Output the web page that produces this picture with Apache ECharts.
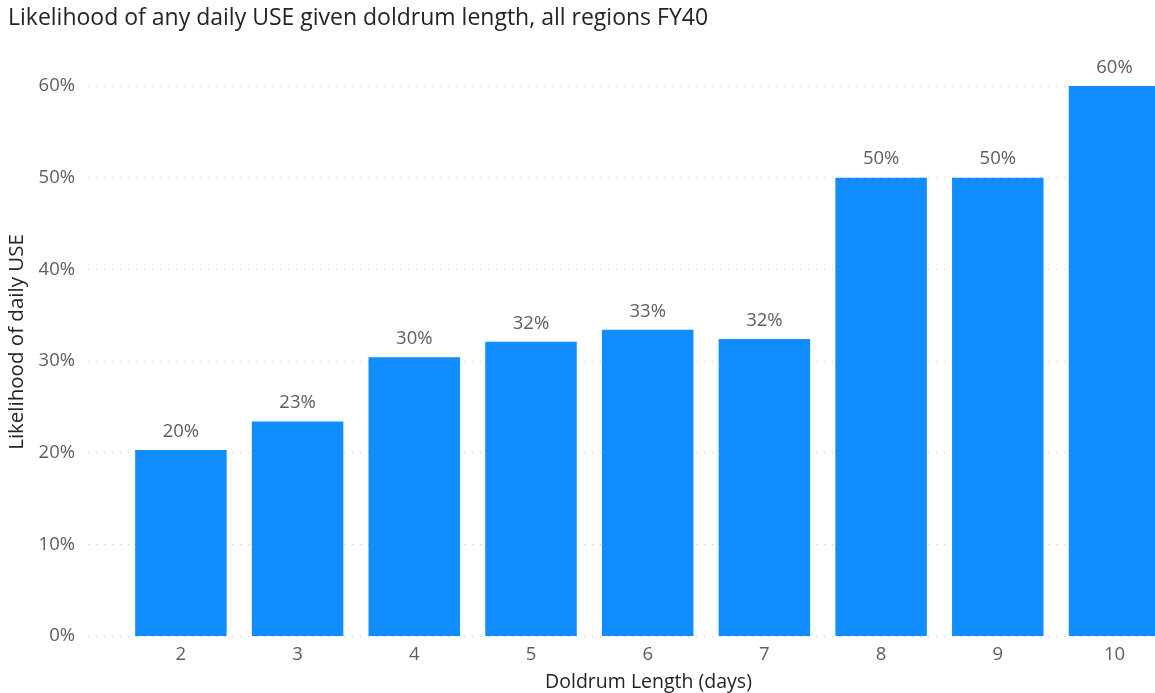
<!DOCTYPE html>
<html>
<head>
<meta charset="utf-8">
<script src="https://cdn.jsdelivr.net/npm/echarts@6/dist/echarts.min.js"></script>
<style>
  html, body { margin: 0; padding: 0; background: #fff; overflow: hidden; }
  #chart { width: 1155px; height: 693px; }
</style>
</head>
<body>
<div id="chart"></div>
<script>
// Doldrum length in days (x) and share of doldrums with any daily USE (y, %)
const doldrumDays = [2, 3, 4, 5, 6, 7, 8, 9, 10];
const useLikelihood = [20.3, 23.4, 30.4, 32.1, 33.4, 32.4, 50.0, 50.0, 60.0];
const yTicks = [0, 10, 20, 30, 40, 50, 60];

const FONT = '"Open Sans", "Noto Sans", sans-serif';

const chart = echarts.init(document.getElementById('chart'), null, { renderer: 'canvas' });

chart.setOption({
  animation: false,
  backgroundColor: '#ffffff',
  title: {
    text: 'Likelihood of any daily USE given doldrum length, all regions FY40',
    left: 3,
    top: 2,
    textStyle: { fontFamily: FONT, fontSize: 23, fontWeight: 'normal', color: '#252423' }
  },
  grid: { left: 88, right: 0, top: 86, bottom: 57, containLabel: false, outerBoundsMode: 'none' },
  xAxis: {
    type: 'value',
    min: 1.204,
    max: 10.347,
    splitLine: { show: false },
    axisLine: { show: false },
    axisTick: { show: false },
    axisLabel: {
      customValues: doldrumDays,
      color: '#605E5C',
      fontFamily: FONT,
      fontSize: 18.5,
      margin: 9
    },
    name: 'Doldrum Length (days)',
    nameLocation: 'middle',
    nameGap: 36,
    nameTextStyle: { fontFamily: FONT, fontSize: 19.5, color: '#252423', padding: [0, 0, 0, 54] }
  },
  yAxis: {
    type: 'value',
    min: 0,
    max: 60,
    interval: 10,
    axisLine: { show: false },
    axisTick: { show: false },
    axisLabel: {
      customValues: yTicks,
      formatter: v => v + '%',
      color: '#605E5C',
      fontFamily: FONT,
      fontSize: 18.5,
      margin: 13
    },
    splitLine: { show: true, lineStyle: { color: '#c8c8c8', width: 1, type: [1, 7] } },
    name: 'Likelihood of daily USE',
    nameLocation: 'middle',
    nameRotate: 90,
    nameGap: 58,
    nameTextStyle: { fontFamily: FONT, fontSize: 20.5, color: '#252423', padding: [0, 0, 0, 38] }
  },
  series: [{
    type: 'bar',
    data: doldrumDays.map((d, i) => [d, useLikelihood[i]]),
    barWidth: 91.5,
    itemStyle: { color: '#118DFF' },
    label: {
      show: true,
      position: 'top',
      distance: 9,
      formatter: p => Math.round(p.value[1]) + '%',
      color: '#605E5C',
      fontFamily: FONT,
      fontSize: 18.5
    }
  }]
});
</script>
</body>
</html>
